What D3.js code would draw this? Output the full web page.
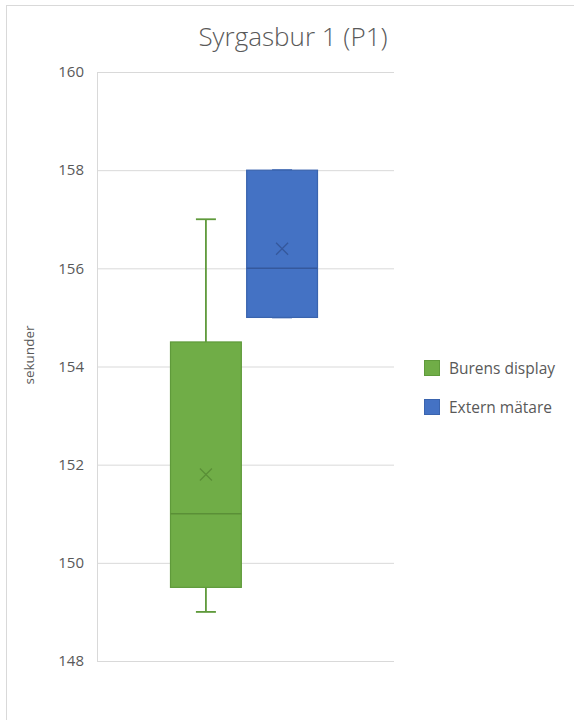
<!DOCTYPE html>
<html>
<head>
<meta charset="utf-8">
<script src="https://cdn.jsdelivr.net/npm/d3@7"></script>
<style>
  html, body { margin: 0; padding: 0; background: #fff; }
  svg { display: block; font-family: "Open Sans", "Noto Sans", sans-serif; }
</style>
</head>
<body>
<svg id="chart" width="574" height="720"></svg>
<script>
// Box plot statistics per series (seconds)
const seriesNames = ["Burens display", "Extern mätare"];
const minValues    = [149,   155];
const q1Values     = [149.5, 155];
const medianValues = [151,   156];
const q3Values     = [154.5, 158];
const maxValues    = [157,   158];
const meanValues   = [151.8, 156.4];
const yTicks = [148, 150, 152, 154, 156, 158, 160];
const categories = [""];

const fills   = ["#70AD47", "#4472C4"];
const strokes = ["#5F9A3B", "#3A64AE"];
const marks   = ["#5A8F37", "#35589C"];

const svg = d3.select("#chart");

// chart frame
svg.append("rect")
  .attr("x", 6.5).attr("y", 5.5)
  .attr("width", 600).attr("height", 740)
  .attr("fill", "#fff").attr("stroke", "#D9D9D9").attr("stroke-width", 1);

const plot = { left: 97, right: 394, top: 72, bottom: 661 };

const y = d3.scaleLinear().domain([148, 160]).range([plot.bottom, plot.top]);
// category band sits slightly left of the plot centre
const x0 = d3.scaleBand().domain(categories).range([plot.left, plot.right - 3])
  .paddingInner(0).paddingOuter(0.5);
const x1 = d3.scaleBand().domain(seriesNames).range([0, x0.bandwidth()])
  .paddingInner(0.07).paddingOuter(0);

// title
svg.append("text")
  .attr("x", 293).attr("y", 46)
  .attr("text-anchor", "middle")
  .attr("font-size", 26).attr("font-weight", 300)
  .attr("fill", "#595959")
  .text("Syrgasbur 1 (P1)");

// gridlines and tick labels
const yAxis = d3.axisLeft(y).tickValues(yTicks).tickSize(-(plot.right - plot.left)).tickPadding(13);
const gAxis = svg.append("g")
  .attr("transform", `translate(${plot.left},0)`)
  .call(yAxis);
gAxis.select(".domain").remove();
gAxis.selectAll(".tick line").attr("stroke", "#D9D9D9").attr("stroke-width", 1);
gAxis.selectAll(".tick text")
  .attr("fill", "#595959").attr("font-size", 15)
  .attr("font-family", "'Open Sans', sans-serif");

// vertical axis line
svg.append("line")
  .attr("x1", plot.left + 0.5).attr("x2", plot.left + 0.5)
  .attr("y1", plot.top).attr("y2", plot.bottom)
  .attr("stroke", "#D9D9D9");

// axis title
svg.append("text")
  .attr("transform", "translate(34,355) rotate(-90)")
  .attr("text-anchor", "middle")
  .attr("font-size", 13.5)
  .attr("fill", "#595959")
  .text("sekunder");

// boxes
const rows = seriesNames.map((name, i) => ({
  name, i,
  min: minValues[i], q1: q1Values[i], median: medianValues[i],
  q3: q3Values[i], max: maxValues[i], mean: meanValues[i]
}));

const g = svg.append("g").attr("transform", `translate(${x0("")},0)`);

const box = g.selectAll("g.box").data(rows).join("g").attr("class", "box")
  .attr("transform", d => `translate(${x1(d.name)},0)`);

const bw = x1.bandwidth();
const cx = bw / 2;
const capW = 20;

// whiskers
box.append("line")
  .attr("x1", cx).attr("x2", cx)
  .attr("y1", d => y(d.max)).attr("y2", d => y(d.q3))
  .attr("stroke", d => strokes[d.i]).attr("stroke-width", 1.8);
box.append("line")
  .attr("x1", cx).attr("x2", cx)
  .attr("y1", d => y(d.q1)).attr("y2", d => y(d.min))
  .attr("stroke", d => strokes[d.i]).attr("stroke-width", 1.8);
box.append("line")
  .attr("x1", cx - capW / 2).attr("x2", cx + capW / 2)
  .attr("y1", d => y(d.max)).attr("y2", d => y(d.max))
  .attr("stroke", d => strokes[d.i]).attr("stroke-width", 1.8);
box.append("line")
  .attr("x1", cx - capW / 2).attr("x2", cx + capW / 2)
  .attr("y1", d => y(d.min)).attr("y2", d => y(d.min))
  .attr("stroke", d => strokes[d.i]).attr("stroke-width", 1.8);

// interquartile box
box.append("rect")
  .attr("x", 0).attr("width", bw)
  .attr("y", d => y(d.q3)).attr("height", d => y(d.q1) - y(d.q3))
  .attr("fill", d => fills[d.i])
  .attr("stroke", d => strokes[d.i]).attr("stroke-width", 1.2);

// median
box.append("line")
  .attr("x1", 0).attr("x2", bw)
  .attr("y1", d => y(d.median)).attr("y2", d => y(d.median))
  .attr("stroke", d => marks[d.i]).attr("stroke-width", 1.5);

// mean marker
const m = 6;
box.append("path")
  .attr("d", d => {
    const my = y(d.mean);
    return `M${cx - m},${my - m}L${cx + m},${my + m}M${cx - m},${my + m}L${cx + m},${my - m}`;
  })
  .attr("fill", "none")
  .attr("stroke", d => marks[d.i]).attr("stroke-width", 1.3);

// legend
const legend = svg.append("g").attr("transform", "translate(424,360)");
const item = legend.selectAll("g").data(seriesNames).join("g")
  .attr("transform", (d, i) => `translate(0,${i * 39})`);
item.append("rect")
  .attr("x", 0.5).attr("y", 0.5).attr("width", 15).attr("height", 15)
  .attr("fill", (d, i) => fills[i])
  .attr("stroke", (d, i) => strokes[i]).attr("stroke-width", 1);
item.append("text")
  .attr("x", 25).attr("y", 13.5)
  .attr("font-size", 15.5).attr("fill", "#595959")
  .text(d => d);
</script>
</body>
</html>
